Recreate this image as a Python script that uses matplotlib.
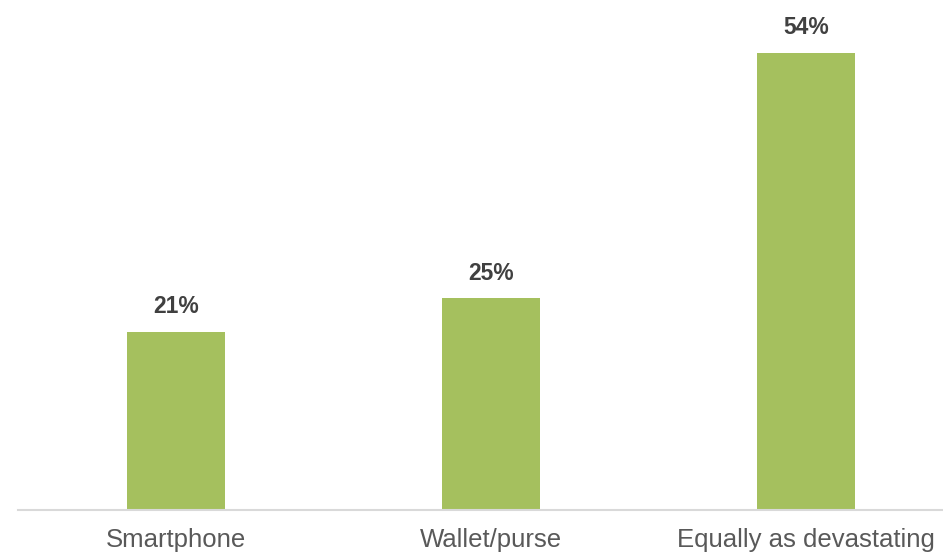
import matplotlib
matplotlib.use("Agg")
import matplotlib.pyplot as plt

# Share of respondents by item
categories = ["Smartphone", "Wallet/purse", "Equally as devastating"]
values = [21, 25, 54]

plt.rcParams['font.family'] = ['Liberation Sans', 'DejaVu Sans']

fig = plt.figure(figsize=(9.43, 5.58), dpi=100)
ax = fig.add_axes([18 / 943, 48 / 558, 925 / 943, 510 / 558])

x = list(range(len(categories)))
bars = ax.bar(x, values, width=0.311, color='#A5C05E', zorder=2)

for b, v in zip(bars, values):
    ax.annotate(f"{v}%", (b.get_x() + b.get_width() / 2, v),
                xytext=(0, 10), textcoords='offset points',
                ha='center', va='bottom', fontsize=16.5, fontweight='bold',
                color='#404040')

ax.set_xlim(-0.5016, 2.435)
ax.set_ylim(0, 60.26)

ax.set_xticks(x)
ax.set_xticklabels(categories, fontsize=18.5, color='#595959')
ax.tick_params(axis='x', length=0, pad=13)
ax.set_yticks([])

for side in ['top', 'right', 'left']:
    ax.spines[side].set_visible(False)
ax.spines['bottom'].set_color('#D9D9D9')
ax.spines['bottom'].set_linewidth(1.5)

fig.savefig("out.png", dpi=100)
